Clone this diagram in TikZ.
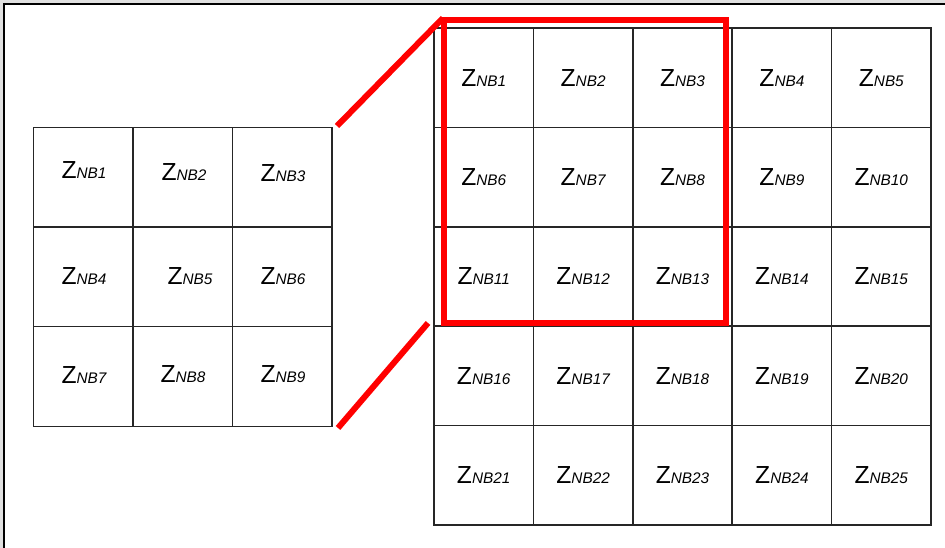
\documentclass[tikz,border=0pt]{standalone}
\usepackage{fontspec}
\setmainfont{Liberation Sans}
\usetikzlibrary{positioning}
\tikzset{
      cellbox/.style={
        draw=black!85,
        line width=1.1pt,
        minimum width=74.6pt,
        minimum height=74.6pt,
        inner sep=0pt,
        anchor=center
      },
      zoomline/.style={
        draw=red,
        line width=4.5pt
      }
    }
\newcommand{\zname}[1]{{\fontsize{18.5}{20}\selectfont Z}{\fontsize{11.5}{12}\selectfont\itshape NB#1}}

\begin{document}
\begin{tikzpicture}[x=0.75pt,y=-0.75pt]
    \useasboundingbox (0,0) rectangle (945,548);
    \fill[black!12] (0,0) rectangle (945,548);
    \fill[white] (4,4) rectangle (945,548);
    \draw[line width=1.5pt] (4,548) -- (4,4) -- (945,4);
    % left 3x3 grid
    \foreach \r in {0,1,2} {
      \foreach \c in {0,1,2} {
        \pgfmathtruncatemacro{\k}{3*\r+\c+1}
        \node[cellbox] (l\k) at (83+99.7*\c,177.5+99.5*\r) {};
      }
    }
    \node at (84,170) {\zname{1}};
    \node at (184,172) {\zname{2}};
    \node at (283,173) {\zname{3}};
    \node at (84,276) {\zname{4}};
    \node at (190,276) {\zname{5}};
    \node at (283,276) {\zname{6}};
    \node at (84,375) {\zname{7}};
    \node at (183,374) {\zname{8}};
    \node at (283,374) {\zname{9}};
    % right 5x5 grid
    \foreach \r in {0,1,2,3,4} {
      \foreach \c in {0,1,2,3,4} {
        \pgfmathtruncatemacro{\k}{5*\r+\c+1}
        \node[cellbox] (r\k) at (483.7+99.4*\c,77.7+99.4*\r) {\zname{\k}};
      }
    }
    % zoomed region
    \draw[zoomline] (444,20) rectangle (726,323);
    \coordinate (a1) at (337,126);
    \coordinate (b1) at (443,18);
    \coordinate (a2) at (338,428);
    \coordinate (b2) at (428,323);
    \draw[zoomline] (a1) -- (b1);
    \draw[zoomline] (a2) -- (b2);
    \end{tikzpicture}
\end{document}
